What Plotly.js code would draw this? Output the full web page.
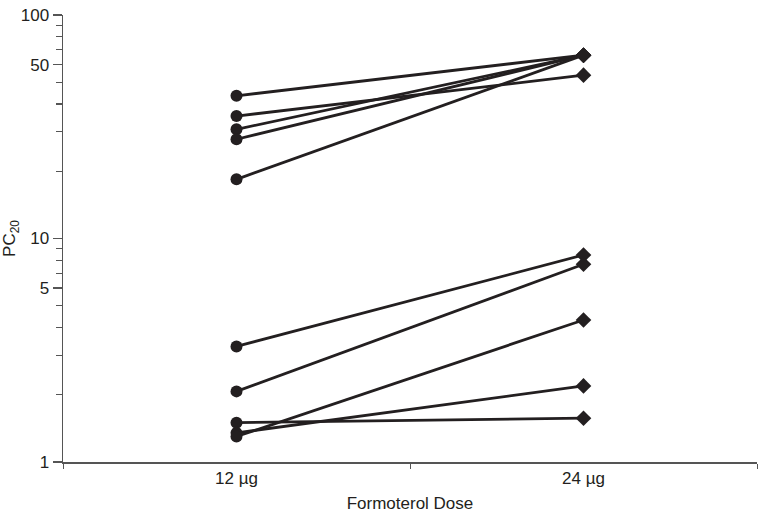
<!DOCTYPE html>
<html>
<head>
<meta charset="utf-8">
<script src="https://cdn.plot.ly/plotly-3.0.1.min.js"></script>
<style>html,body{margin:0;padding:0;background:#fff;}#chart{width:764px;height:518px;}</style>
</head>
<body>
<div id="chart"></div>
<script>
// Doses (categories)
var doses = ["12 µg", "24 µg"];
// PC20 per subject at each dose
var pc20At12 = [43.5, 35.3, 30.8, 27.8, 18.4, 3.29, 2.07, 1.50, 1.35, 1.30];
var pc20At24 = [66.1, 53.8, 66.1, 66.1, 66.1, 8.44, 7.67, 1.57, 2.19, 4.32];
// Y tick positions/labels as printed in the figure
var yTickVals = [1, 6, 10, 60, 100];
var yTickText = ["1", "5", "10", "50", "100"];
var yMinorVals = [2, 3, 4, 5, 7, 8, 9, 20, 30, 40, 50, 70, 80, 90];

var ink = "#231f20";
var traces = pc20At12.map(function (v, i) {
  return {
    type: "scatter",
    mode: "lines+markers",
    x: doses,
    y: [v, pc20At24[i]],
    line: {color: ink, width: 2.8},
    marker: {color: ink, opacity: 1, size: [12, 12], symbol: ["circle", "diamond"], line: {width: 0, color: ink}},
    showlegend: false,
    hoverinfo: "skip"
  };
});

var layout = {
  width: 764,
  height: 518,
  margin: {l: 63, r: 7, t: 15, b: 56},
  paper_bgcolor: "#fff",
  plot_bgcolor: "#fff",
  font: {family: "Liberation Sans, Arial, sans-serif", size: 17, color: ink},
  xaxis: {
    type: "category",
    range: [-0.5, 1.5],
    tickson: "boundaries",
    ticks: "outside",
    ticklen: 5,
    tickcolor: "#555",
    showline: true,
    linecolor: "#555",
    linewidth: 1.5,
    showgrid: false,
    zeroline: false,
    tickfont: {size: 17, color: ink},
    title: {text: "Formoterol Dose", font: {size: 17, color: ink}, standoff: 10}
  },
  yaxis: {
    type: "log",
    range: [0, 2],
    tickmode: "array",
    tickvals: yTickVals,
    ticktext: yTickText,
    ticks: "outside",
    ticklen: 9,
    tickcolor: "#555",
    tickwidth: 1.2,
    showline: true,
    linecolor: "#555",
    linewidth: 1.5,
    showgrid: false,
    zeroline: false,
    tickfont: {size: 17, color: ink},
    minor: {tickmode: "array", tickvals: yMinorVals, ticks: "outside", ticklen: 6, tickcolor: "#555", tickwidth: 1.2, showgrid: false},
    title: {text: "PC<sub>20</sub>", font: {size: 17, color: ink}, standoff: 6}
  }
};

Plotly.newPlot("chart", traces, layout, {displayModeBar: false, staticPlot: true});
</script>
</body>
</html>
